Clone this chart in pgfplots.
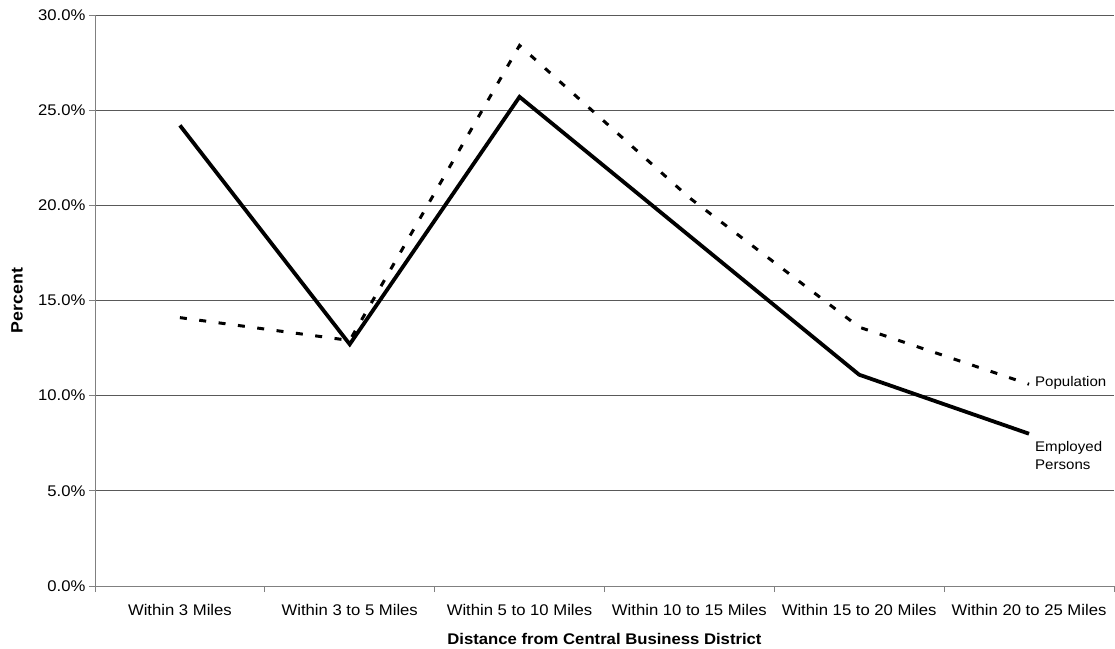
\documentclass[border=0pt]{standalone}
\usepackage{fontspec}
\setmainfont[FakeStretch=1.08]{Liberation Sans}
\usepackage{pgfplots}
\pgfplotsset{compat=1.18}
\begin{document}
\begin{tikzpicture}
\useasboundingbox (-95bp,-63bp) rectangle (1020bp,586bp);
\begin{axis}[
  at={(0,0)}, anchor=south west,
  scale only axis, width=1019bp, height=571bp,
  xmin=-0.5, xmax=5.5, ymin=0, ymax=30,
  clip=false,
  axis x line*=bottom, axis y line*=left,
  axis line style={black!50, line width=0.8bp, -},
  tick align=outside, major tick length=6bp,
  tick style={black!50, line width=0.8bp},
  xtick={0,...,5},
  xticklabels={Within 3 Miles, Within 3 to 5 Miles, Within 5 to 10 Miles, Within 10 to 15 Miles, Within 15 to 20 Miles, Within 20 to 25 Miles},
  xtick style={draw=none},
  extra x ticks={-0.5,0.5,1.5,2.5,3.5,4.5,5.5},
  extra x tick labels={},
  extra x tick style={xtick style={draw=black!50, line width=0.8bp}},
  ytick={0,5,...,30},
  ymajorgrids,
  major grid style={black!65, line width=0.8bp},
  yticklabel={\pgfmathprintnumber[fixed,fixed zerofill,precision=1]{\tick}\%},
  /pgf/number format/assume math mode=true,
  ticklabel style={font=\fontsize{15.5}{18}\selectfont},
  xticklabel style={yshift=-9bp},
  xlabel={Distance from Central Business District},
  ylabel={Percent},
  xlabel style={at={(axis description cs:0.5,-0.0928)}, anchor=center, font=\bfseries\fontsize{15.5}{18}\selectfont},
  ylabel style={at={(axis description cs:-0.0765,0.5)}, anchor=center, font=\bfseries\fontsize{16.5}{18}\selectfont},
]
\addplot[black, line width=3bp, dash pattern=on 7bp off 12.5bp] coordinates {(0,14.1) (1,12.9) (2,28.4) (3,20.4) (4,13.6) (5,10.6)};
\addplot[black, line width=3.8bp] coordinates {(0,24.2) (1,12.7) (2,25.7) (3,18.4) (4,11.1) (5,8.0)};
\node[anchor=west, inner sep=0pt, font=\fontsize{14}{16.5}\selectfont] at (axis cs:5.035,10.66) {Population};
\node[anchor=west, inner sep=0pt, align=left, font=\fontsize{14}{18}\selectfont] at (axis cs:5.035,6.88) {Employed\\Persons};
\end{axis}
\end{tikzpicture}
\end{document}
